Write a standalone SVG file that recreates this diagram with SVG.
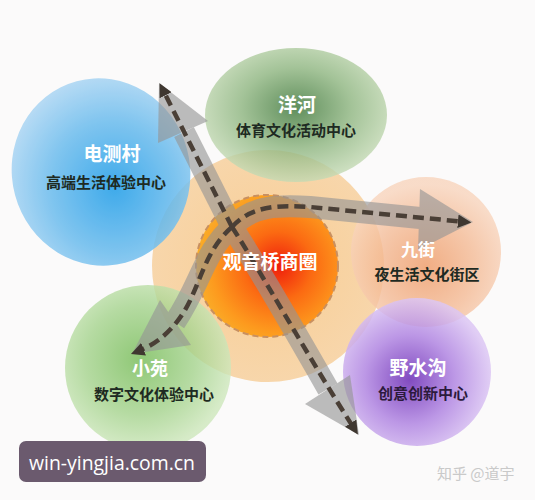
<svg xmlns="http://www.w3.org/2000/svg" width="535" height="500" viewBox="0 0 535 500">
<defs>
<radialGradient id="gBlue" cx="0.55" cy="0.6" r="0.6">
<stop offset="0" stop-color="#1f9de8"/><stop offset="0.6" stop-color="#6bbcee"/><stop offset="1" stop-color="#a9d5f3"/>
</radialGradient>
<radialGradient id="gYang" cx="0.5" cy="0.45" r="0.55">
<stop offset="0" stop-color="#3a7435"/><stop offset="0.55" stop-color="#8db57f"/><stop offset="1" stop-color="#c4dab4"/>
</radialGradient>
<radialGradient id="gBig" cx="0.5" cy="0.5" r="0.5">
<stop offset="0" stop-color="#f8c888"/><stop offset="1" stop-color="#f7d2a2"/>
</radialGradient>
<radialGradient id="gCore" cx="0.58" cy="0.5" r="0.6">
<stop offset="0" stop-color="#ef1d0c"/><stop offset="0.4" stop-color="#fb6a12"/><stop offset="0.78" stop-color="#fd9a1e"/><stop offset="1" stop-color="#f9b02a"/>
</radialGradient>
<radialGradient id="gJiu" cx="0.5" cy="0.6" r="0.55">
<stop offset="0" stop-color="#ee9a66"/><stop offset="0.6" stop-color="#f4bb96"/><stop offset="1" stop-color="#f8d4bc"/>
</radialGradient>
<radialGradient id="gPur" cx="0.45" cy="0.55" r="0.55">
<stop offset="0" stop-color="#6c2cb6"/><stop offset="0.55" stop-color="#b186e2"/><stop offset="1" stop-color="#dcc6f4"/>
</radialGradient>
<radialGradient id="gXiao" cx="0.45" cy="0.45" r="0.55">
<stop offset="0" stop-color="#74bb55"/><stop offset="0.6" stop-color="#a4d38c"/><stop offset="1" stop-color="#cde7bb"/>
</radialGradient>
<marker id="tip" viewBox="0 0 10 10" refX="6" refY="5" markerWidth="3" markerHeight="3" orient="auto">
<path d="M0,0 L10,5 L0,10 z" fill="#3f3730"/>
</marker>
<style>
.band{fill:none;stroke:#959595;stroke-width:22;stroke-linecap:butt;stroke-linejoin:round}
.head{fill:#959595}
.dash{fill:none;stroke:#4a3f36;stroke-width:4.5;stroke-dasharray:11 6}
.t{font-family:"Noto Sans CJK SC","Noto Sans",sans-serif;font-weight:bold;text-anchor:middle}
.title{font-size:19px;fill:#ffffff}
.sub{font-size:15px;fill:#1e2a22}
</style>
</defs>
<rect width="535" height="500" fill="#fbfafa"/>

<g id="node-big">
<circle cx="268" cy="266" r="116" fill="url(#gBig)" opacity="0.9"/>
</g>
<g id="node-dianceCun" opacity="0.85">
<ellipse cx="101" cy="172" rx="89" ry="94" transform="rotate(-15 101 172)" fill="url(#gBlue)"/>
</g>
<g id="node-yanghe" opacity="0.8">
<ellipse cx="296" cy="115" rx="91" ry="67" fill="url(#gYang)"/>
</g>
<g id="node-jiujie" opacity="0.8">
<circle cx="426" cy="252" r="75" fill="url(#gJiu)"/>
</g>
<g id="node-yeshuigou" opacity="0.85">
<circle cx="417" cy="372" r="74" fill="url(#gPur)"/>
</g>
<g id="node-xiaoyuan" opacity="0.8">
<circle cx="148" cy="368" r="83" fill="url(#gXiao)"/>
</g>
<g id="node-core">
<circle cx="267" cy="266" r="71" fill="url(#gCore)" stroke="#c99060" stroke-width="2" stroke-dasharray="6 4"/>
</g>

<g id="connectors">
<g opacity="0.62">
<path class="band" d="M232,227 L184,132"/>
<polygon class="head" points="159,83 158,143 208,121"/>
<path class="band" d="M232,227 C255,262 300,340 328,389"/>
<polygon class="head" points="359,435 305,404 350,375"/>
<path class="band" d="M232,227 C252,205 280,205 310,207 L420,218"/>
<polygon class="head" points="473,222 420,189 418,250"/>
<path class="band" d="M232,227 C205,250 200,285 175,322"/>
<polygon class="head" points="132,354 160,300 191,345"/>
</g>
<path class="dash" d="M232,227 L162,88" marker-end="url(#tip)"/>
<path class="dash" d="M232,227 C255,262 310,360 355,430" marker-end="url(#tip)"/>
<path class="dash" d="M232,227 C252,205 280,205 310,207 L466,222" marker-end="url(#tip)"/>
<path class="dash" d="M232,227 C205,250 200,285 185,310 S152,346 136,352" marker-end="url(#tip)"/>
</g>

<g id="labels">
<text class="t title" x="112" y="161">电测村</text>
<text class="t sub" x="106" y="188">高端生活体验中心</text>
<text class="t title" x="297" y="112">洋河</text>
<text class="t sub" x="296" y="136">体育文化活动中心</text>
<text class="t title" x="270" y="269">观音桥商圈</text>
<text class="t title" x="418" y="256" style="font-size:17px">九街</text>
<text class="t sub" x="427" y="280">夜生活文化街区</text>
<text class="t title" x="150" y="375" style="font-size:18px">小苑</text>
<text class="t sub" x="154" y="400">数字文化体验中心</text>
<text class="t title" x="418" y="375">野水沟</text>
<text class="t sub" x="423" y="399" style="fill:#2c1a3c">创意创新中心</text>
</g>

<g id="watermark">
<rect x="19" y="441" width="187" height="41" rx="7" fill="#6b5a6e"/>
<text x="29" y="470" font-family="'Open Sans','DejaVu Sans',sans-serif" font-size="20" fill="#ffffff" textLength="166" lengthAdjust="spacingAndGlyphs">win-yingjia.com.cn</text>
<text x="437" y="479" font-family="'Noto Sans CJK SC',sans-serif" font-size="15" fill="#c9c9c9">知乎 @道宇</text>
</g>
</svg>
